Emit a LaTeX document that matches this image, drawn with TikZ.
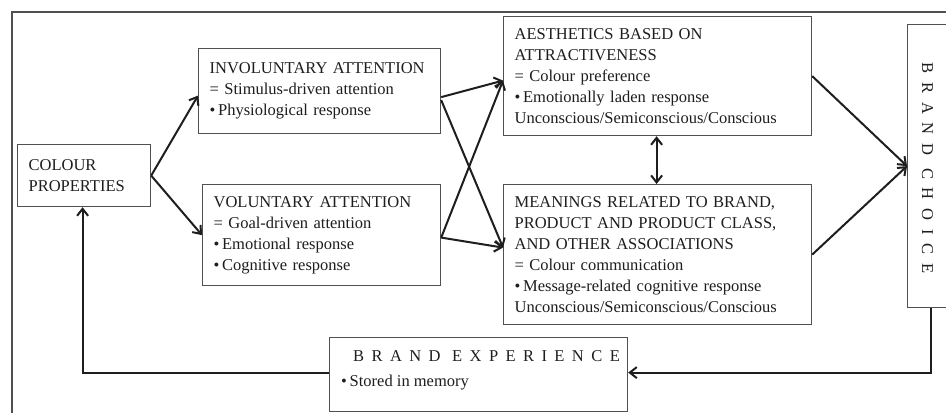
\documentclass[tikz,border=0pt]{standalone}
\usepackage{fontspec}
\setmainfont{Liberation Serif}
\newfontfamily\spacedA[LetterSpace=45]{Liberation Serif}
\newfontfamily\spacedB[LetterSpace=53]{Liberation Serif}
\usetikzlibrary{arrows.meta}
\definecolor{ink}{HTML}{1E1E1E}
\definecolor{boxline}{HTML}{505050}
\tikzset{
  box/.style={draw=boxline, line width=1.2pt, anchor=north west, inner xsep=11pt, inner ysep=0pt,
    align=left, text=ink, font=\fontsize{16.5}{21}\selectfont},
  conn/.style={draw=ink, line width=2pt, -{Straight Barb[length=7pt,width=11pt,line width=2pt]}},
  dconn/.style={draw=ink, line width=2pt, {Straight Barb[length=7pt,width=11pt,line width=2pt]}-{Straight Barb[length=7pt,width=11pt,line width=2pt]}},
  line/.style={draw=ink, line width=2pt}
}
\begin{document}
\begin{tikzpicture}[x=1pt,y=-1pt]
\useasboundingbox (0,0) rectangle (946,413);
\fill[white] (0,0) rectangle (946,413);
\draw[boxline, line width=1.4pt] (12,413) -- (12,12) -- (946,12);

\node[box, minimum width=133pt, minimum height=62pt, text width=111pt] (cp) at (17,144)
  {COLOUR\\PROPERTIES};
\node[box, minimum width=242pt, minimum height=85pt, text width=220pt] (inv) at (198,48)
  {INVOLUNTARY ATTENTION\\= Stimulus-driven attention\\\textbullet\,Physiological response};
\node[box, minimum width=238pt, minimum height=101pt, text width=216pt] (vol) at (202,184)
  {VOLUNTARY ATTENTION\\= Goal-driven attention\\\textbullet\,Emotional response\\\textbullet\,Cognitive response};
\node[box, minimum width=308pt, minimum height=119pt, text width=286pt] (aes) at (503,16)
  {AESTHETICS BASED ON\\ATTRACTIVENESS\\= Colour preference\\\textbullet\,Emotionally laden response\\Unconscious/Semiconscious/Conscious};
\node[box, minimum width=308pt, minimum height=140pt, text width=286pt] (mea) at (503,184)
  {MEANINGS RELATED TO BRAND,\\PRODUCT AND PRODUCT CLASS,\\AND OTHER ASSOCIATIONS\\= Colour communication\\\textbullet\,Message-related cognitive response\\Unconscious/Semiconscious/Conscious};
\node[draw=boxline, line width=1.2pt, anchor=north west, minimum width=55pt, minimum height=283pt, inner sep=0pt] (bc) at (907,24) {};
\node[text=ink, rotate=-90, font=\spacedB\fontsize{16.5}{16}\selectfont, inner sep=0pt] (bct) at (927.5,168) {BRAND CHOICE};
\node[draw=boxline, line width=1.2pt, anchor=north west, minimum width=298pt, minimum height=74pt, inner sep=0pt] (be) at (329,337) {};
\node[text=ink, anchor=west, font=\spacedA\fontsize{16.5}{16}\selectfont, inner sep=0pt] (bet) at (353,356) {BRAND EXPERIENCE};
\node[text=ink, anchor=west, font=\fontsize{16.5}{16}\selectfont, inner sep=0pt] (bes) at (341,383) {\textbullet\,Stored in memory};

\draw[conn] (cp.east) -- ([yshift=-4.5pt]inv.west);
\draw[conn] (cp.east) -- (vol.west);
\draw[conn] ([yshift=-6pt]inv.east) -- ([yshift=-4.5pt]aes.west);
\draw[conn] ([yshift=-9pt]inv.east) -- ([yshift=7pt]mea.west);
\draw[conn] ([yshift=-2.5pt]vol.east) -- ([yshift=-4.5pt]aes.west);
\draw[conn] ([yshift=-2.5pt]vol.east) -- ([yshift=7pt]mea.west);
\draw[conn] (aes.east) -- (bc.west);
\draw[conn] (mea.east) -- (bc.west);
\draw[dconn] ([xshift=-1pt]aes.south) -- ([xshift=-1pt]mea.south |- mea.north);
\draw[conn] ([xshift=-4.5pt]bc.south) |- ([yshift=2pt]be.east);
\draw[conn] ([yshift=2pt]be.west) -| ([xshift=-1.5pt]cp.south);
\end{tikzpicture}
\end{document}
